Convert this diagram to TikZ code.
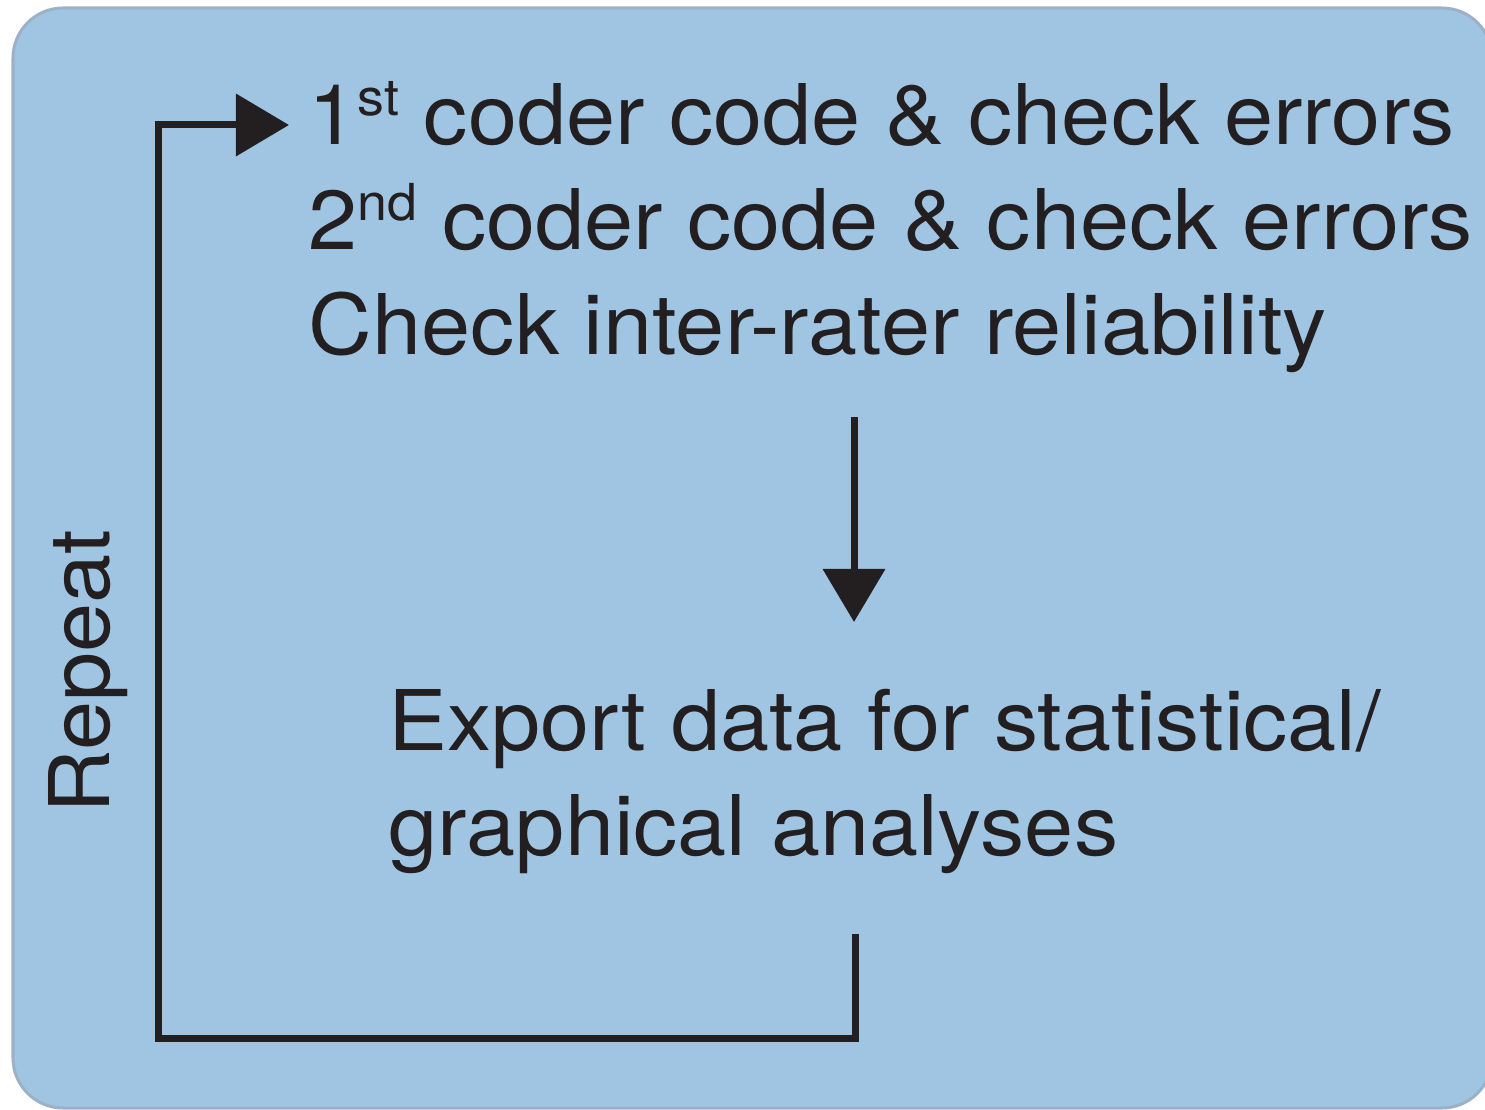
\documentclass[tikz,border=0pt]{standalone}
\usepackage{fontspec}
\setmainfont{TeX Gyre Heros}[FakeStretch=1.055]
\usetikzlibrary{arrows.meta}
\definecolor{panel}{HTML}{9FC5E3}
\definecolor{rim}{HTML}{9DB1C6}
\definecolor{ink}{HTML}{231F20}
\newcommand{\ordsup}[1]{\raisebox{8.5pt}{\fontsize{14.5}{14.5}\selectfont #1}}
\tikzset{
	txt/.style={anchor=base west, inner sep=0pt, text=ink, font=\fontsize{23.8}{28}\selectfont},
	flow/.style={draw=ink, line width=0.07cm, -{Triangle[length=0.53cm,width=0.61cm]}},
}
\begin{document}
\begin{tikzpicture}[x=0.01cm, y=-0.01cm]
	\useasboundingbox (0,0) rectangle (1485,1110);
	\begin{scope}
	\clip (0,0) rectangle (1485,1110);
	\draw[rim, fill=panel, line width=0.03cm, rounded corners=0.5cm] (13,8) rectangle (1492,1108);
	\end{scope}
	
	\node[txt] (first) at (308,145) {1\ordsup{st} coder code \& check errors};
	\node[txt] (second) at (308,250) {2\ordsup{nd} coder code \& check errors};
	\node[txt] (irr) at (308,355) {Check inter-rater reliability};
	\node[txt] (export) at (388,750) {Export data for statistical/};
	\node[txt] (graph) at (388,855) {graphical analyses};
	\node[txt, anchor=center, rotate=90] (repeat) at (88,672) {Repeat};
	
	\coordinate (downtop) at (854,417);
	\coordinate (downend) at (854,622);
	\draw[flow] (downtop) -- (downend);
	
	\coordinate (loopstart) at (855,934);
	\coordinate (loopend) at (289,125);
	\draw[flow] (loopstart) -- (855,1038) -- (158,1038) -- (158,125) -- (loopend);
\end{tikzpicture}
\end{document}
